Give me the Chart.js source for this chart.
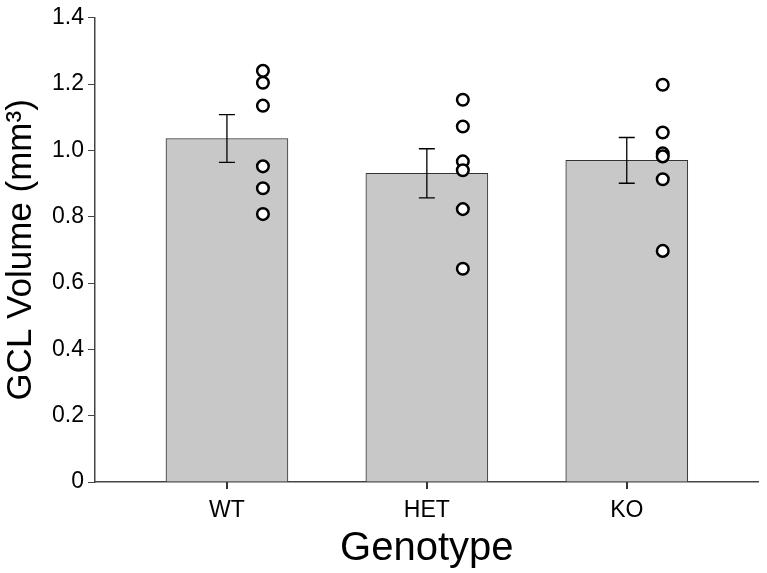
<!DOCTYPE html>
<html>
<head>
<meta charset="utf-8">
<script src="https://cdn.jsdelivr.net/npm/chart.js@4.4.0/dist/chart.umd.min.js"></script>
<style>
  html, body { margin: 0; padding: 0; background: #fff; }
  #wrap { width: 767px; height: 573px; }
</style>
</head>
<body>
<div id="wrap"><canvas id="gclChart" width="767" height="573"></canvas></div>
<script>
// genotype groups and measured values
const genotypes = ['WT', 'HET', 'KO'];
const groupPos = [1, 2, 3];
const meanVolume = [1.036, 0.931, 0.970];
const semVolume = [0.072, 0.074, 0.069];
const wtPoints = [1.240, 1.204, 1.135, 0.952, 0.886, 0.808];
const hetPoints = [1.153, 1.072, 0.967, 0.940, 0.823, 0.643];
const koPoints = [1.198, 1.054, 0.991, 0.982, 0.913, 0.697];
const yTicks = [0, 0.2, 0.4, 0.6, 0.8, 1.0, 1.2, 1.4];

const pointOffset = 0.18;
const allPoints = [wtPoints, hetPoints, koPoints];

const scatterData = [];
allPoints.forEach((pts, i) => {
  pts.forEach(v => scatterData.push({ x: groupPos[i] + pointOffset, y: v }));
});

const barData = groupPos.map((x, i) => ({ x: x, y: meanVolume[i] }));

// error bars + x tick marks, placed through the scales
const errorBars = {
  id: 'errorBars',
  afterDraw(chart) {
    const ctx = chart.ctx;
    const xs = chart.scales.x, ys = chart.scales.y;
    ctx.save();
    ctx.strokeStyle = '#000';
    ctx.lineWidth = 1.3;
    groupPos.forEach((p, i) => {
      const x = xs.getPixelForValue(p);
      const top = ys.getPixelForValue(meanVolume[i] + semVolume[i]);
      const bot = ys.getPixelForValue(meanVolume[i] - semVolume[i]);
      ctx.beginPath();
      ctx.moveTo(x, top); ctx.lineTo(x, bot);
      ctx.moveTo(x - 8, top); ctx.lineTo(x + 8, top);
      ctx.moveTo(x - 8, bot); ctx.lineTo(x + 8, bot);
      ctx.stroke();
    });
    // x tick marks
    const yb = ys.getPixelForValue(0);
    ctx.fillStyle = '#333';
    groupPos.forEach(p => {
      const x = Math.round(xs.getPixelForValue(p));
      ctx.fillRect(x - 1, yb, 2, 7);
    });
    ctx.restore();
  }
};

const fontFam = "'Liberation Sans', Arial, sans-serif";

new Chart(document.getElementById('gclChart'), {
  type: 'bar',
  data: {
    datasets: [
      {
        type: 'scatter',
        data: scatterData,
        pointRadius: 5.8,
        pointBorderWidth: 2.5,
        pointBackgroundColor: '#fff',
        pointBorderColor: '#000',
        order: 0
      },
      {
        type: 'bar',
        data: barData,
        backgroundColor: '#c8c8c8',
        borderColor: '#333',
        borderWidth: 1,
        barThickness: 122,
        order: 1
      }
    ]
  },
  options: {
    responsive: false,
    animation: false,
    layout: { padding: { top: 16, right: 2, left: 0, bottom: 0 } },
    plugins: { legend: { display: false }, tooltip: { enabled: false } },
    scales: {
      x: {
        type: 'linear',
        min: 0.34,
        max: 3.66,
        offset: false,
        bounds: 'ticks',
        afterBuildTicks: (scale) => { scale.ticks = groupPos.map(v => ({ value: v })); },
        afterFit: (scale) => { scale.height = 91; },
        ticks: {
          callback: (v) => genotypes[groupPos.indexOf(v)],
          color: '#000',
          font: { family: fontFam, size: 23 },
          padding: 7,
          maxRotation: 0,
          autoSkip: false
        },
        grid: { display: false },
        border: { display: true, color: '#444', width: 1.5 },
        title: {
          display: true,
          text: 'Genotype',
          color: '#000',
          font: { family: fontFam, size: 40 },
          padding: { top: 0, bottom: 0 }
        }
      },
      y: {
        type: 'linear',
        min: 0,
        max: 1.4,
        afterBuildTicks: (scale) => { scale.ticks = yTicks.map(v => ({ value: v })); },
        afterFit: (scale) => { scale.width = 95; },
        ticks: {
          callback: (v) => (v === 0 ? '0' : v.toFixed(1)),
          color: '#000',
          font: { family: fontFam, size: 23 },
          padding: 4
        },
        grid: { drawOnChartArea: false, drawTicks: true, tickLength: 7, color: '#444' },
        border: { display: true, color: '#444', width: 1.5 },
        title: {
          display: true,
          text: 'GCL Volume (mm\u00b3)',
          color: '#000',
          font: { family: fontFam, size: 35 },
          padding: { top: 0, bottom: 0 }
        }
      }
    }
  },
  plugins: [errorBars]
});
</script>
</body>
</html>
